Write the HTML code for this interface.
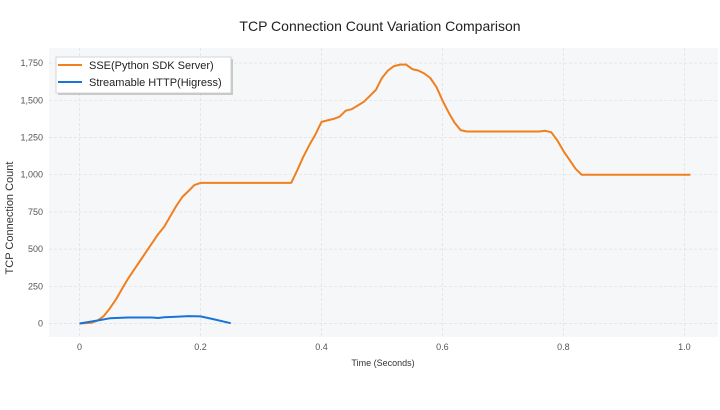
<!DOCTYPE html>
<html><head><meta charset="utf-8"><style>
html,body{margin:0;padding:0;background:#fff;}
body{width:720px;height:405px;overflow:hidden;font-family:"Liberation Sans",sans-serif;}
</style></head><body>
<svg id="chart" width="720" height="405" xmlns="http://www.w3.org/2000/svg">
<text x="380" y="31" text-anchor="middle" font-size="14" fill="#222">TCP Connection Count Variation Comparison</text>
<rect x="49" y="48" width="669" height="289" fill="#f6f7f9"/>
<g id="grid"></g><g id="series"></g><g id="ticks"></g>
<text x="383" y="366" text-anchor="middle" font-size="9" fill="#333">Time (Seconds)</text>
<text transform="translate(13,218) rotate(-90)" text-anchor="middle" font-size="11" fill="#333">TCP Connection Count</text>
<g>
<rect x="58" y="59" width="175" height="36" fill="#999" opacity="0.5"/>
<rect x="56" y="57" width="175" height="36" fill="#fff" stroke="#ccc" stroke-width="0.8"/>
<line x1="58" y1="65" x2="82" y2="65" stroke="#f07f1e" stroke-width="2"/>
<text x="89" y="69" font-size="11" fill="#222">SSE(Python SDK Server)</text>
<line x1="58" y1="82" x2="82" y2="82" stroke="#1a73d9" stroke-width="2"/>
<text x="89" y="86" font-size="11" fill="#222">Streamable HTTP(Higress)</text>
</g>
</svg>
<script>
const sseT=[0,0.02,0.03,0.04,0.05,0.06,0.07,0.08,0.09,0.10,0.11,0.12,0.13,0.14,0.15,0.16,0.17,0.18,0.19,0.20,0.25,0.30,0.35,0.36,0.37,0.38,0.39,0.40,0.41,0.42,0.43,0.44,0.45,0.46,0.47,0.48,0.49,0.50,0.51,0.52,0.53,0.54,0.55,0.56,0.57,0.58,0.59,0.60,0.61,0.62,0.63,0.64,0.70,0.76,0.77,0.78,0.79,0.80,0.81,0.82,0.83,0.90,1.01];
const sseV=[0,5,20,50,100,160,230,300,360,420,480,540,600,650,720,790,850,890,930,945,945,945,945,1030,1120,1200,1270,1355,1365,1375,1390,1430,1440,1465,1490,1530,1570,1650,1700,1730,1740,1740,1710,1700,1680,1650,1590,1500,1420,1350,1300,1290,1290,1290,1295,1285,1230,1160,1100,1040,1000,1000,1000];
const httpT=[0,0.03,0.05,0.07,0.08,0.12,0.13,0.14,0.16,0.18,0.20,0.22,0.25];
const httpV=[0,20,35,38,40,40,37,42,45,50,48,30,2];
const xTicks=[0,0.2,0.4,0.6,0.8,1.0];
const xLabels=["0","0.2","0.4","0.6","0.8","1.0"];
const yTicks=[0,250,500,750,1000,1250,1500,1750];
const yLabels=["0","250","500","750","1,000","1,250","1,500","1,750"];
const NS="http://www.w3.org/2000/svg";
const xs=t=>79.5+t*604.9;
const ys=v=>323.5-v*(37.2/250);
const mk=(tag,at,parent)=>{const e=document.createElementNS(NS,tag);for(const k in at)e.setAttribute(k,at[k]);document.getElementById(parent).appendChild(e);return e;};
xTicks.forEach((t,i)=>{
 const l=mk('line',{x1:xs(t),x2:xs(t),y1:48,y2:337,stroke:'#dde0e5','stroke-dasharray':'3,2','stroke-width':0.7},'grid');
 
 
 const tx=mk('text',{x:xs(t),y:350,'text-anchor':'middle','font-size':9,fill:'#555'},'ticks');
 tx.textContent=xLabels[i];
 
 
});
yTicks.forEach((v,i)=>{
 const l=mk('line',{x1:49,x2:718,y1:ys(v),y2:ys(v),stroke:'#dde0e5','stroke-dasharray':'3,2','stroke-width':0.7},'grid');
 
 
 const tx=mk('text',{x:43,y:ys(v)+3,'text-anchor':'end','font-size':9,fill:'#555'},'ticks');
 tx.textContent=yLabels[i];
 
 
});
const path=(T,V)=>T.map((t,i)=>(i?'L':'M')+xs(t).toFixed(1)+','+ys(V[i]).toFixed(1)).join(' ');
const p1=mk('path',{d:path(sseT,sseV),fill:'none',stroke:'#f07f1e','stroke-width':2,'stroke-linejoin':'round'},'series');


const p2=mk('path',{d:path(httpT,httpV),fill:'none',stroke:'#1a73d9','stroke-width':2,'stroke-linejoin':'round'},'series');


</script>
</body></html>
